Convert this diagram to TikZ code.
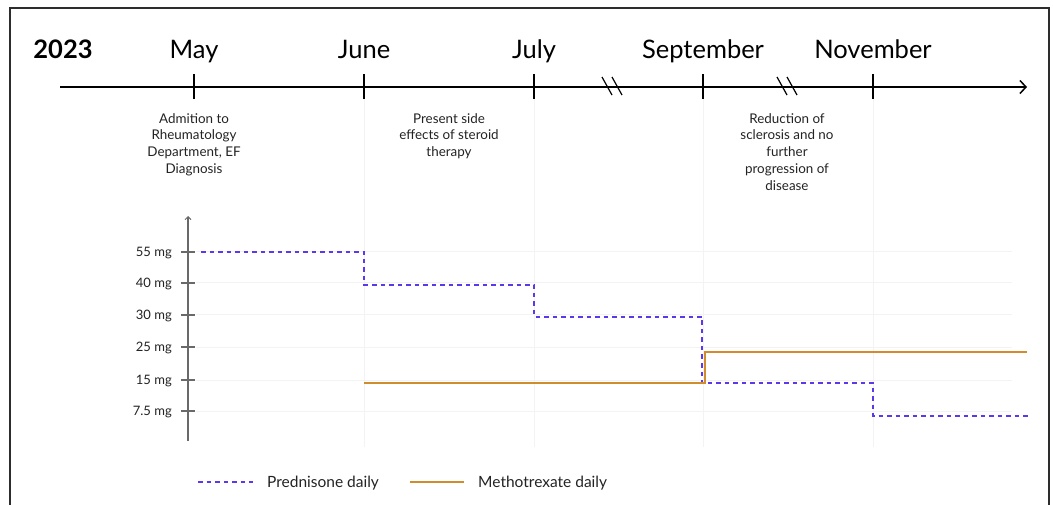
\documentclass[tikz,border=0pt]{standalone}
\usepackage{fontspec}
\setmainfont{Lato}
\usetikzlibrary{arrows.meta}
\definecolor{pred}{RGB}{95,55,235}
\definecolor{mtx}{RGB}{208,140,45}
\definecolor{gridc}{RGB}{243,243,243}
\definecolor{framec}{RGB}{45,45,45}
\definecolor{axisc}{RGB}{105,105,105}
\definecolor{txt}{RGB}{35,35,35}
\begin{document}
\begin{tikzpicture}[x=1pt,y=-1pt,
 month/.style={font=\fontsize{25.5}{30}\selectfont, text=black, inner sep=0pt, anchor=base},
 yearlab/.style={font=\fontsize{25.5}{30}\selectfont\bfseries, text=black, inner sep=0pt, anchor=base},
 event/.style={font=\fontsize{13.4}{16.8}\selectfont, align=center, text=txt, inner sep=0pt, anchor=north},
 ylab/.style={font=\fontsize{13}{15}\selectfont, anchor=base east, text=txt, inner sep=0pt},
 legtext/.style={font=\fontsize{15.5}{18}\selectfont, anchor=base west, text=txt, inner sep=0pt},
 timeline/.style={line width=1.5pt, black},
 tickmark/.style={line width=1.5pt, black},
 breakmark/.style={line width=1.2pt, black},
 gridline/.style={line width=1pt, gridc},
 yaxis/.style={line width=1.3pt, axisc},
 ytick/.style={line width=1.2pt, axisc},
 prednisone/.style={pred, line width=1.6pt, dash pattern=on 4.5pt off 4pt},
 methotrexate/.style={mtx, line width=2pt},
 frameline/.style={line width=1.2pt, framec},
]
\useasboundingbox (0,0) rectangle (1053,505);
% frame (open at the bottom)
\draw[frameline] (10,506) -- (10,8) -- (1049,8) -- (1049,506);

% faint grid
\foreach \gy in {252,283,315,347,380,411}
  \draw[gridline] (196,\gy) -- (1012,\gy);
\foreach \gx in {364,534,703,873}
  \draw[gridline] (\gx,99) -- (\gx,447);

% timeline
\coordinate (tlstart) at (60,87);
\coordinate (tlend) at (1027,87);
\draw[timeline, -{Straight Barb[length=6pt,width=13pt,line width=1.5pt]}] (tlstart) -- (tlend);

\node[yearlab] (year) at (63,58.5) {2023};
\foreach \mx/\mname/\mlab in {194/may/May,364/june/June,534/july/July,703/sept/September,873/nov/November}{
  \coordinate (t\mname) at (\mx,87);
  \draw[tickmark] (\mx,74) -- (\mx,99);
  \node[month] (\mname) at (\mx,59) {\mlab};
}
% break marks
\foreach \bx in {607,617,782,792}
  \draw[breakmark] (\bx-5,77) -- (\bx+5,95);

% events
\node[event] (ev1) at (194,113) {Admition to\\Rheumatology\\Department, EF\\Diagnosis};
\node[event] (ev2) at (449,113) {Present side\\effects of steroid\\therapy};
\node[event] (ev3) at (787,113) {Reduction of\\sclerosis and no\\further\\progression of\\disease};

% y axis
\coordinate (ybot) at (188,441);
\coordinate (ytop) at (188,216);
\draw[yaxis, -{Straight Barb[length=3pt,width=6pt,line width=1pt]}] (ybot) -- (ytop);
\foreach \ty/\tl in {252/55 mg,283/40 mg,315/30 mg,347/25 mg,380/15 mg,411/7.5 mg}{
  \draw[ytick] (181,\ty) -- (195,\ty);
  \node[ylab] at (172,\ty+4.6) {\tl};
}

% data
\draw[prednisone] (201,252) -| (364,285) -| (534,317) -| (702,383) -| (873,416) -- (1028,416);
\draw[methotrexate] (364,383) -| (705,352) -- (1027,352);

% legend
\coordinate (lp1) at (198,482);
\coordinate (lp2) at (253,482);
\draw[prednisone] (lp1) -- (lp2);
\node[legtext] (lpt) at (267,487.5) {Prednisone daily};
\coordinate (lm1) at (410,482);
\coordinate (lm2) at (464,482);
\draw[methotrexate] (lm1) -- (lm2);
\node[legtext] (lmt) at (478,487.5) {Methotrexate daily};
\end{tikzpicture}
\end{document}
